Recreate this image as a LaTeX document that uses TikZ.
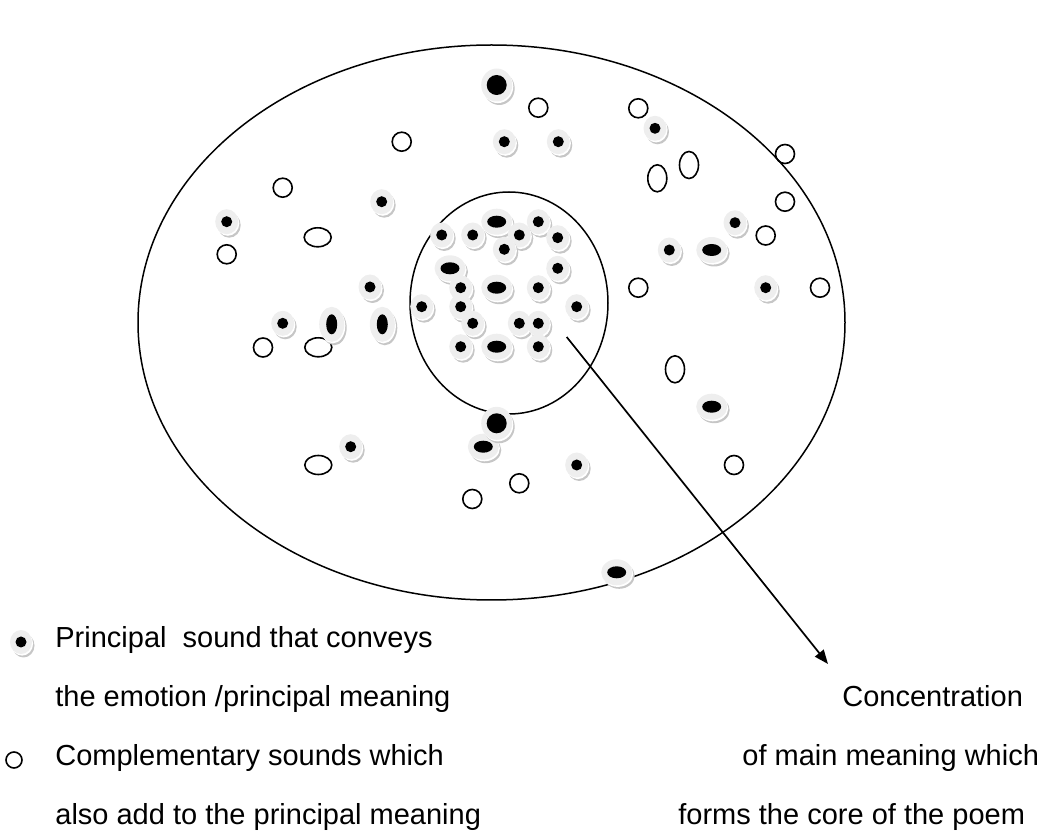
\documentclass[tikz,border=0pt]{standalone}
\usepackage{fontspec}
\setmainfont{Liberation Sans}
\usetikzlibrary{arrows.meta}

\definecolor{discgray}{HTML}{EEEEEE}
\definecolor{shadegray}{HTML}{C6C6C6}

\tikzset{
  pics/sound/.style n args={4}{code={
    \fill[shadegray] (2.5,3.5) ellipse [x radius=#1, y radius=#2];
    \fill[white] (1.1,1.6) ellipse [x radius=#1, y radius=#2];
    \fill[discgray] (0,0) ellipse [x radius=#1, y radius=#2];
    \fill[black] (0,0) ellipse [x radius=#3, y radius=#4];
  }},
  opensnd/.style={draw=black, line width=0.8pt},
  boundary/.style={draw=black, line width=0.75pt},
  legendtext/.style={anchor=base west, inner sep=0pt, font=\fontsize{14.5}{17}\selectfont},
  pointer/.style={line width=0.85pt, -{Triangle[length=7pt,width=5.5pt]}},
}

% principal sounds: small, big, horizontal and vertical kernels
\newcommand\sndS[1]{\pic at (#1) {sound={11.5}{12.5}{5.5}{5.5}};}
\newcommand\sndB[1]{\pic at (#1) {sound={15.5}{16.5}{10}{10}};}
\newcommand\sndH[1]{\pic at (#1) {sound={15.5}{13}{9.5}{6}};}
\newcommand\sndV[1]{\pic at (#1) {sound={12.5}{17.5}{5.5}{10}};}
% complementary sounds
\newcommand\opnC[1]{\draw[opensnd] (#1) circle [radius=9.5];}
\newcommand\opnH[1]{\draw[opensnd] (#1) ellipse [x radius=13.5, y radius=9.5];}
\newcommand\opnV[1]{\draw[opensnd] (#1) ellipse [x radius=9.5, y radius=13.5];}

\begin{document}
\begin{tikzpicture}[x=0.5pt, y=-0.5pt]
\useasboundingbox (0,0) rectangle (1062,834);

% the poem and its core
\draw[boundary] (491.5,322.5) ellipse [x radius=353.5, y radius=277.5];
\draw[boundary] (509,303) ellipse [x radius=99, y radius=111];

% complementary sounds
\opnC{538.3,107.7} \opnC{401.7,141.7} \opnC{638.3,108.3} \opnC{785,154}
\opnC{282.7,187.7} \opnC{785,201.7} \opnC{226.7,254.3} \opnC{765.7,235.5}
\opnC{638.3,287.7} \opnC{820,287.7} \opnC{263,347.5} \opnC{734,465}
\opnC{519.3,483.3} \opnC{472.3,499}
\opnH{317.7,237.3} \opnH{318.3,347.3} \opnH{318.3,465}
\opnV{657.3,178.3} \opnV{689,165} \opnV{675,369.3}

% principal sounds outside the core
\sndB{496.7,85}
\sndS{504.3,141.7} \sndS{558.3,141.7} \sndS{655,128.3}
\sndS{381.7,201.7} \sndS{226.7,221.7} \sndS{735,222.7}
\sndS{669.3,250} \sndH{711.7,250} \sndS{765.7,287.7}
\sndS{370,287} \sndS{282.7,323.3} \sndV{331.7,324.3} \sndV{382.3,324.3}
\sndH{711.7,406.7}
\sndH{483.3,446.7} \sndB{496.7,423.3}
\sndS{350.7,446.7} \sndS{576.7,465}
\sndH{616.7,572.3}

% principal sounds gathered in the core
\sndS{441.7,235} \sndS{472.7,235} \sndH{496.7,221.7} \sndS{538.3,221.7}
\sndS{519.3,235} \sndS{557.7,237.7} \sndS{504.3,249.3}
\sndH{450,268.3} \sndS{557.7,268.3}
\sndS{460.7,287.7} \sndH{496.7,287.7} \sndS{538.3,287.7}
\sndS{421.7,306.7} \sndS{460.7,306.7} \sndS{576.7,306.7}
\sndS{472.7,323.3} \sndS{519.3,323.3} \sndS{538.3,323.3}
\sndS{460.7,346.7} \sndH{496.7,346.7} \sndS{538.3,346.7}

% pointer from the core to its caption
\coordinate (tail) at (566.7,337);
\coordinate (tip) at (828,664);
\draw[pointer] (tail) -- (tip);

% legend
\pic at (21,642) {sound={11}{12}{5.5}{5.5}};
\draw[opensnd] (14,760) circle [radius=8];
\node[legendtext] (lp1) at (55,647) {Principal\ \ sound that conveys};
\node[legendtext] (lp2) at (55,706) {the emotion /principal meaning};
\node[legendtext] (lc1) at (55,765) {Complementary sounds which};
\node[legendtext] (lc2) at (55,824) {also add to the principal meaning};

% caption of the core
\node[legendtext] (cap1) at (842,706) {Concentration};
\node[legendtext] (cap2) at (742,765) {of main meaning which};
\node[legendtext] (cap3) at (678,824) {forms the core of the poem};
\end{tikzpicture}
\end{document}
